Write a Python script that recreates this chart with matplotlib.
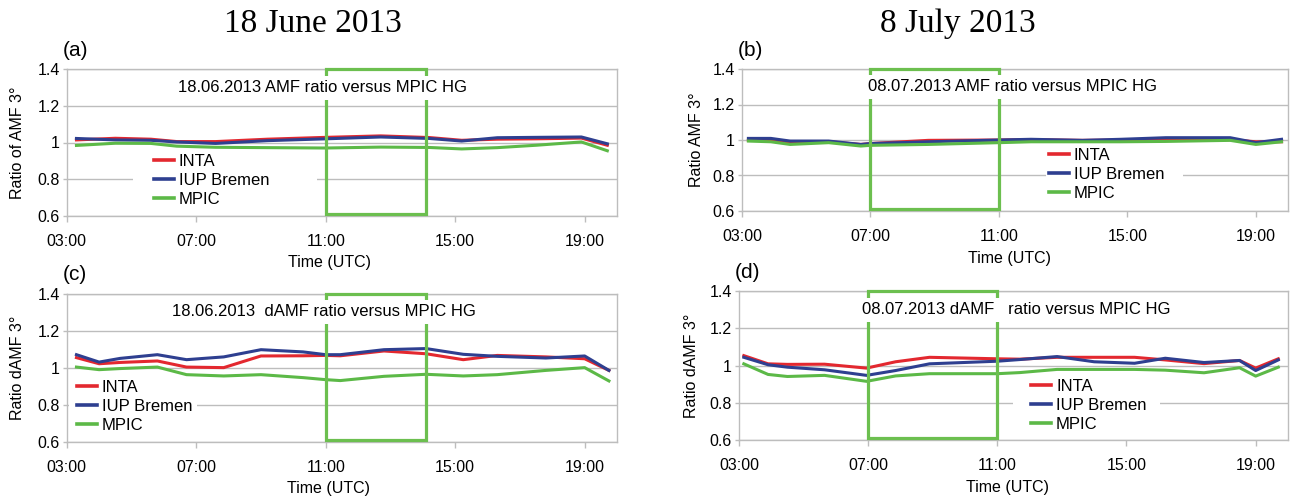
import matplotlib
matplotlib.use("Agg")
import matplotlib.pyplot as plt
from matplotlib.patches import Rectangle
from matplotlib.lines import Line2D

plt.rcParams['font.family'] = ['Liberation Sans', 'DejaVu Sans']

# ---- data: ratio of each group's AMF to the MPIC HG reference ----
series_names = ["INTA", "IUP Bremen", "MPIC"]
series_colors = ["#e3282f", "#2e3f90", "#5cb947"]

# 18 June 2013, AMF 3 deg
hours_a = [3.3, 4.5, 5.6, 6.4, 7.6, 9.2, 11.0, 12.7, 14.2, 15.2, 16.3, 17.5, 18.9, 19.7]
inta_a = [1.014, 1.023, 1.018, 1.005, 1.005, 1.018, 1.028, 1.036, 1.027, 1.012, 1.018, 1.020, 1.024, 0.985]
iup_a = [1.022, 1.014, 1.012, 1.003, 0.995, 1.010, 1.020, 1.030, 1.022, 1.008, 1.026, 1.028, 1.030, 0.993]
mpic_a = [0.984, 0.996, 0.995, 0.980, 0.974, 0.972, 0.970, 0.975, 0.973, 0.965, 0.972, 0.985, 1.003, 0.955]

# 8 July 2013, AMF 3 deg
hours_b = [3.2, 3.9, 4.5, 5.7, 6.7, 7.0, 8.8, 11.0, 12.0, 13.6, 14.8, 16.2, 18.2, 19.0, 19.8]
inta_b = [0.998, 0.998, 0.990, 0.990, 0.975, 0.980, 0.998, 1.000, 1.002, 0.998, 1.000, 1.002, 1.002, 0.990, 0.990]
iup_b = [1.009, 1.009, 0.994, 0.994, 0.975, 0.980, 0.990, 1.000, 1.004, 0.998, 1.004, 1.013, 1.013, 0.985, 1.004]
mpic_b = [0.994, 0.990, 0.975, 0.985, 0.966, 0.970, 0.975, 0.985, 0.990, 0.990, 0.990, 0.992, 0.998, 0.975, 0.990]

# 18 June 2013, dAMF 3 deg
hours_c = [3.3, 4.0, 4.65, 5.8, 6.7, 7.85, 9.0, 10.3, 11.0, 11.45, 12.8, 14.1, 15.25, 16.3, 17.8, 19.0, 19.75]
inta_c = [1.056, 1.023, 1.030, 1.038, 1.005, 1.002, 1.065, 1.066, 1.068, 1.066, 1.092, 1.077, 1.045, 1.068, 1.060, 1.050, 0.987]
iup_c = [1.072, 1.032, 1.052, 1.072, 1.045, 1.060, 1.099, 1.087, 1.072, 1.072, 1.099, 1.105, 1.074, 1.063, 1.054, 1.065, 0.987]
mpic_c = [1.005, 0.991, 0.997, 1.005, 0.964, 0.957, 0.964, 0.948, 0.937, 0.932, 0.955, 0.966, 0.957, 0.964, 0.987, 1.002, 0.930]

# 8 July 2013, dAMF 3 deg
hours_d = [3.15, 3.9, 4.5, 5.65, 6.95, 7.85, 8.9, 11.0, 11.7, 12.85, 14.0, 15.25, 16.2, 17.4, 18.5, 19.0, 19.7]
inta_d = [1.053, 1.009, 1.006, 1.007, 0.986, 1.020, 1.044, 1.036, 1.034, 1.044, 1.044, 1.044, 1.030, 1.010, 1.027, 0.986, 1.036]
iup_d = [1.044, 1.004, 0.991, 0.977, 0.947, 0.973, 1.009, 1.023, 1.032, 1.048, 1.020, 1.012, 1.039, 1.016, 1.027, 0.973, 1.030]
mpic_d = [1.009, 0.952, 0.941, 0.947, 0.915, 0.944, 0.956, 0.956, 0.962, 0.979, 0.979, 0.979, 0.975, 0.961, 0.988, 0.943, 0.991]

x_ticks = [3, 7, 11, 15, 19]
x_tick_labels = ["03:00", "07:00", "11:00", "15:00", "19:00"]
y_ticks = [0.6, 0.8, 1.0, 1.2, 1.4]
y_tick_labels = ["0.6", "0.8", "1", "1.2", "1.4"]

# time window of the comparison period on each day (hours UTC)
window_june = (11.0, 14.1)
window_july = (7.0, 11.0)

day_titles = ["18 June 2013", "8 July 2013"]

GRID = "#bdbdbd"
BOX = "#6cbf4f"

fig = plt.figure(figsize=(12.96, 5.0), dpi=100)

panels = [
    dict(rect=[0.0515, 0.568, 0.4246, 0.294], hours=hours_a, vals=[inta_a, iup_a, mpic_a],
         label="(a)", ylabel="Ratio of AMF 3°", note="18.06.2013 AMF ratio versus MPIC HG",
         note_xy=(10.91, 1.297), window=window_june,
         leg_anchor=(0.158, 0.425), leg_patch=(0.12, 0.04, 0.335, 0.39),
         ylab_x=-0.076, xlab_pos=(0.478, -0.265)),
    dict(rect=[0.5725, 0.578, 0.4213, 0.284], hours=hours_b, vals=[inta_b, iup_b, mpic_b],
         label="(b)", ylabel="Ratio AMF 3°", note="08.07.2013 AMF ratio versus MPIC HG",
         note_xy=(11.41, 1.299), window=window_july,
         leg_anchor=(0.562, 0.445), leg_patch=(0.557, 0.03, 0.251, 0.41),
         ylab_x=-0.07, xlab_pos=(0.49, -0.282)),
    dict(rect=[0.0515, 0.116, 0.4246, 0.296], hours=hours_c, vals=[inta_c, iup_c, mpic_c],
         label="(c)", ylabel="Ratio dAMF 3°", note="18.06.2013  dAMF ratio versus MPIC HG",
         note_xy=(10.94, 1.303), window=window_june,
         leg_anchor=(0.018, 0.42), leg_patch=(0.005, 0.03, 0.231, 0.38),
         ylab_x=-0.076, xlab_pos=(0.475, -0.263)),
    dict(rect=[0.5702, 0.12, 0.4236, 0.298], hours=hours_d, vals=[inta_d, iup_d, mpic_d],
         label="(d)", ylabel="Ratio dAMF 3°", note="08.07.2013 dAMF   ratio versus MPIC HG",
         note_xy=(11.58, 1.298), window=window_july,
         leg_anchor=(0.532, 0.41), leg_patch=(0.499, 0.03, 0.268, 0.37),
         ylab_x=-0.072, xlab_pos=(0.49, -0.268)),
]

for p in panels:
    ax = fig.add_axes(p["rect"])
    ax.set_xlim(3, 20)
    ax.set_ylim(0.6, 1.4)
    ax.set_axisbelow(True)
    ax.yaxis.grid(True, color=GRID, linewidth=1.0)
    for s in ax.spines.values():
        s.set_color(GRID)
        s.set_linewidth(1.0)
    ax.set_xticks(x_ticks)
    ax.set_xticklabels(x_tick_labels)
    ax.set_yticks(y_ticks)
    ax.set_yticklabels(y_tick_labels)
    ax.tick_params(axis="x", length=4, width=1, color=GRID, pad=9, labelsize=11.5)
    ax.tick_params(axis="y", length=3, width=1, color=GRID, pad=2, labelsize=11.5)

    # white area behind the legend hides the gridline
    ax.add_patch(Rectangle(p["leg_patch"][:2], p["leg_patch"][2], p["leg_patch"][3],
                           transform=ax.transAxes, facecolor="white", edgecolor="none", zorder=1))

    handles = []
    for name, color, v in zip(series_names, series_colors, p["vals"]):
        ax.plot(p["hours"], v, color=color, linewidth=2.2, zorder=3, label=name,
                solid_joinstyle="round")
        handles.append(Line2D([], [], color=color, linewidth=2.6))

    # comparison window
    x0, x1 = p["window"]
    ax.add_patch(Rectangle((x0, 0.612), x1 - x0, 1.4 - 0.612, facecolor="none",
                           edgecolor=BOX, linewidth=2.3, zorder=4, clip_on=False))

    ax.text(p["note_xy"][0], p["note_xy"][1], p["note"], ha="center", va="center",
            fontsize=12, zorder=5,
            bbox=dict(boxstyle="square,pad=0.25", facecolor="white", edgecolor="none"))

    ax.legend(handles, series_names, loc="upper left", bbox_to_anchor=p["leg_anchor"],
              frameon=False, fontsize=12, handlelength=1.2, handletextpad=0.3,
              labelspacing=0.24, borderpad=0, borderaxespad=0)

    ax.set_ylabel(p["ylabel"], fontsize=11.5)
    ax.yaxis.set_label_coords(p["ylab_x"], 0.5)
    ax.set_xlabel("Time (UTC)", fontsize=11.5)
    ax.xaxis.set_label_coords(*p["xlab_pos"])

    bb = p["rect"]
    fig.text(bb[0] - 0.003, bb[1] + bb[3] + 0.038, p["label"], fontsize=15,
             ha="left", va="center")

fig.text(313 / 1296, 1 - 24 / 500, day_titles[0], family=["Liberation Serif", "DejaVu Serif"],
         fontsize=24, ha="center", va="center")
fig.text(958 / 1296, 1 - 24 / 500, day_titles[1], family=["Liberation Serif", "DejaVu Serif"],
         fontsize=24, ha="center", va="center")

fig.savefig("out.png", dpi=100, facecolor="white")
